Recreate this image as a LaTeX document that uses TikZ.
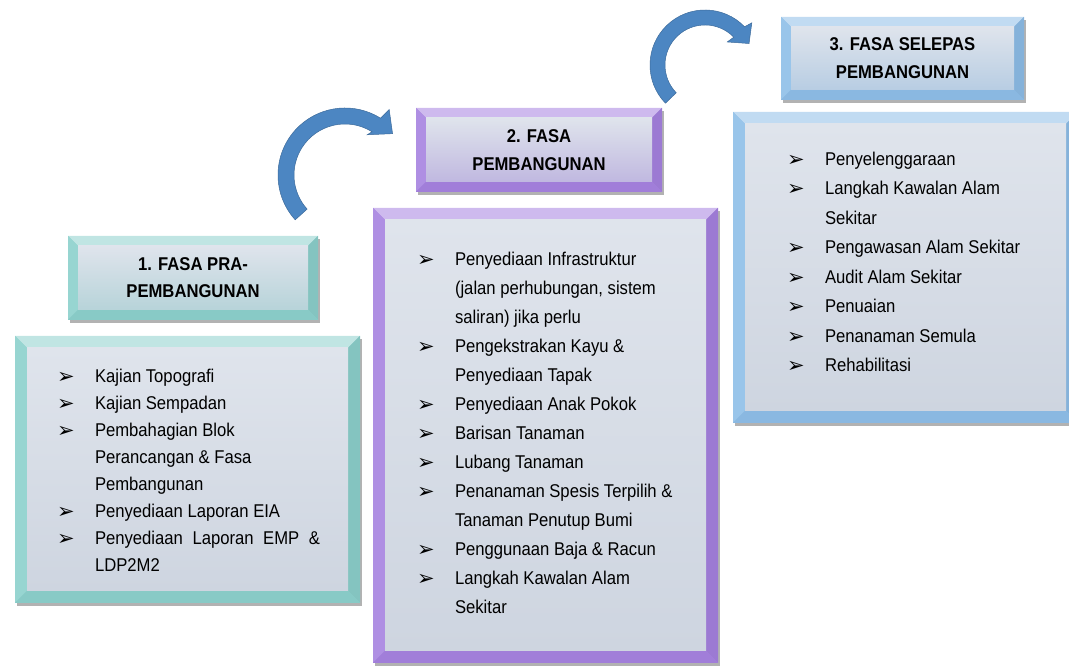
\documentclass[tikz,border=0pt]{standalone}
\usepackage{fontspec}
\setmainfont{Liberation Sans}[FakeStretch=0.9]
\newfontfamily\dingfont{DejaVu Sans}
\usetikzlibrary{positioning,shadows}

\definecolor{tealfr}{RGB}{140,208,204}
\definecolor{lilacfr}{RGB}{166,130,224}
\definecolor{skyfr}{RGB}{142,190,232}
\definecolor{paneltop}{RGB}{223,228,236}
\definecolor{panelbot}{RGB}{206,213,224}
\definecolor{arrowblue}{RGB}{76,134,194}

\newlength\bevw
\newcommand\pitem[1]{\makebox[38pt][l]{\raisebox{-1pt}{\dingfont\fontsize{21}{21}\selectfont ➢}}#1}
\newcommand\pcont[1]{\hspace*{38pt}#1}
\newcommand\titlefont{\bfseries\fontsize{18.5}{27}\selectfont}

\begin{document}
\begin{tikzpicture}[x=1pt, y=1pt, inner sep=0pt, outer sep=0pt]
\tikzset{
  bevelwidth/.code={\setlength\bevw{#1}},
  framebox/.style 2 args={fill=#1,
    drop shadow={shadow xshift=2pt, shadow yshift=-3pt, opacity=0.3, fill=black},
    path picture={
      \coordinate (nw) at (path picture bounding box.north west);
      \coordinate (ne) at (path picture bounding box.north east);
      \coordinate (se) at (path picture bounding box.south east);
      \coordinate (sw) at (path picture bounding box.south west);
      \coordinate (inw) at ([shift={(\bevw,-\bevw)}]nw);
      \coordinate (ine) at ([shift={(-\bevw,-\bevw)}]ne);
      \coordinate (ise) at ([shift={(-\bevw,\bevw)}]se);
      \coordinate (isw) at ([shift={(\bevw,\bevw)}]sw);
      \fill[#1!55!white] (nw) -- (ne) -- (ine) -- (inw) -- cycle;
      \fill[#1!90!white] (nw) -- (inw) -- (isw) -- (sw) -- cycle;
      \fill[#1!94!black] (ne) -- (se) -- (ise) -- (ine) -- cycle;
      \fill[#1!97!black] (sw) -- (isw) -- (ise) -- (se) -- cycle;
      \shade[top color=paneltop, bottom color=#1!#2!panelbot] (inw) rectangle (ise);
    }},
}
\tikzstyle{titlebox}=[bevelwidth=10pt, align=center, font=\titlefont]
\tikzstyle{panel}=[bevelwidth=12pt, minimum width=345pt]
\tikzstyle{listtext}=[anchor=north west, align=left]
\tikzstyle{curvarrow}=[fill=arrowblue, draw=arrowblue!80!black, line width=0.5pt]
%
\useasboundingbox (0,0) rectangle (1069,668);
\clip (0,0) rectangle (1069,668);

% phase 1
\node [titlebox, framebox={tealfr}{35}, minimum width=250pt, minimum height=84pt] (t1) at (193,390)
  {1. FASA PRA-\\PEMBANGUNAN};
\node [panel, framebox={tealfr}{0}, minimum height=267pt, below=16pt of t1, xshift=-5.5pt] (c1) {};
\node [listtext, font=\fontsize{18.5}{27}\selectfont] (l1) at ([shift={(42pt,-33pt)}]c1.north west) {%
  \pitem{Kajian Topografi}\\
  \pitem{Kajian Sempadan}\\
  \pitem{Pembahagian Blok}\\
  \pcont{Perancangan \& Fasa}\\
  \pcont{Pembangunan}\\
  \pitem{Penyediaan Laporan EIA}\\
  \pitem{\makebox[225pt][s]{Penyediaan Laporan EMP \&}}\\
  \pcont{LDP2M2}};

% phase 2
\node [titlebox, framebox={lilacfr}{35}, minimum width=246pt, minimum height=84pt,
  font=\bfseries\fontsize{18.5}{28}\selectfont] (t2) at (539,518) {2. FASA\\PEMBANGUNAN};
\node [panel, framebox={lilacfr}{0}, minimum height=455pt, below=16pt of t2, xshift=6.5pt] (c2) {};
\node [listtext, font=\fontsize{18.5}{29}\selectfont] (l2) at ([shift={(44pt,-44pt)}]c2.north west) {%
  \pitem{Penyediaan Infrastruktur}\\
  \pcont{(jalan perhubungan, sistem}\\
  \pcont{saliran) jika perlu}\\
  \pitem{Pengekstrakan Kayu \&}\\
  \pcont{Penyediaan Tapak}\\
  \pitem{Penyediaan Anak Pokok}\\
  \pitem{Barisan Tanaman}\\
  \pitem{Lubang Tanaman}\\
  \pitem{Penanaman Spesis Terpilih \&}\\
  \pcont{Tanaman Penutup Bumi}\\
  \pitem{Penggunaan Baja \& Racun}\\
  \pitem{Langkah Kawalan Alam}\\
  \pcont{Sekitar}};

% phase 3
\node [titlebox, framebox={skyfr}{35}, minimum width=243pt, minimum height=83pt,
  font=\bfseries\fontsize{18.5}{28}\selectfont] (t3) at (902.5,609.5) {3. FASA SELEPAS\\PEMBANGUNAN};
\node [panel, framebox={skyfr}{0}, minimum height=311pt, below=12pt of t3, xshift=3pt] (c3) {};
\node [listtext, font=\fontsize{18.5}{29.5}\selectfont] (l3) at ([shift={(54pt,-40pt)}]c3.north west) {%
  \pitem{Penyelenggaraan}\\
  \pitem{Langkah Kawalan Alam}\\
  \pcont{Sekitar}\\
  \pitem{Pengawasan Alam Sekitar}\\
  \pitem{Audit Alam Sekitar}\\
  \pitem{Penuaian}\\
  \pitem{Penanaman Semula}\\
  \pitem{Rehabilitasi}};

% curved arrows between the phases
\coordinate (a1) at ([shift={(152pt,103pt)}]t1.center);
\coordinate (a2) at ([shift={(166pt,85pt)}]t2.center);
\begin{scope}[shift={(a1)}]
\filldraw [curvarrow] (222:67pt) arc[start angle=222, end angle=58, radius=67pt]
  -- (56:79pt) -- (41:63pt) -- (61:46pt) -- (58:51pt)
  arc[start angle=58, end angle=222, radius=51pt] -- cycle;
\end{scope}
\begin{scope}[shift={(a2)}]
\filldraw [curvarrow] (224:55pt) arc[start angle=224, end angle=44, radius=55pt]
  -- (42:63pt) -- (26:49pt) -- (46:32pt) -- (44:40pt)
  arc[start angle=44, end angle=224, radius=40pt] -- cycle;
\end{scope}
\end{tikzpicture}
\end{document}
